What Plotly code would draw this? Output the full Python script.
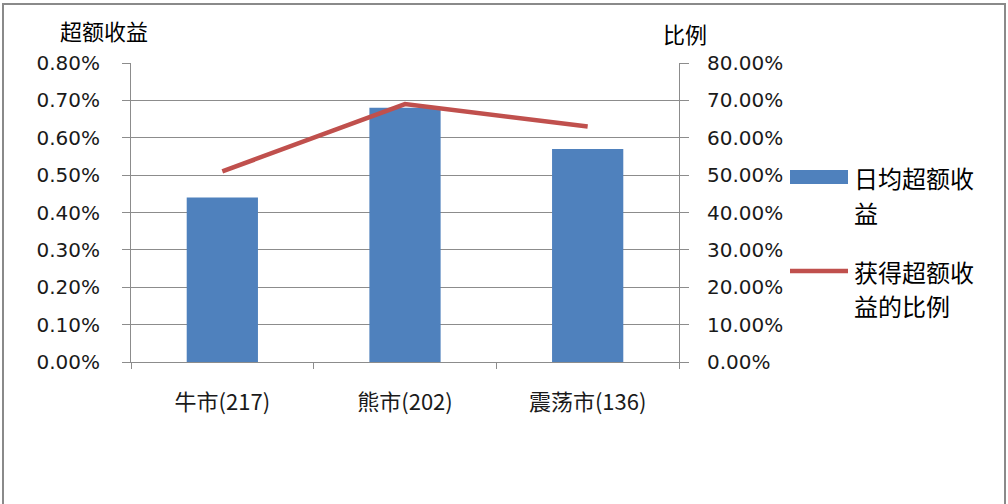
import plotly.graph_objects as go

categories = ["牛市(217)", "熊市(202)", "震荡市(136)"]
excess_return = [0.0044, 0.0068, 0.0057]      # 日均超额收益
win_ratio = [0.51, 0.69, 0.63]                # 获得超额收益的比例
left_ticks = [0, 0.001, 0.002, 0.003, 0.004, 0.005, 0.006, 0.007, 0.008]
right_ticks = [0, 0.1, 0.2, 0.3, 0.4, 0.5, 0.6, 0.7, 0.8]

W, H = 1008, 504
L, R, T, B = 131, 329, 63, 142
pw, ph = W - L - R, H - T - B

def px(x):
    return (x - L) / pw

def py(y):
    return (H - B - y) / ph

BLUE = "#4F81BD"
RED = "#C0504D"
GRID = "#8C8C8C"
NUM_FONT = dict(family="DejaVu Sans", size=20, color="#1a1a1a")
CJK = "Noto Sans CJK SC"

fig = go.Figure()
fig.add_trace(go.Bar(x=categories, y=excess_return, name="日均超额收益",
                     marker=dict(color=BLUE, line=dict(width=0)),
                     yaxis="y", showlegend=False))
fig.add_trace(go.Scatter(x=categories, y=win_ratio, name="获得超额收益的比例",
                         mode="lines", line=dict(color=RED, width=4.5),
                         yaxis="y2", showlegend=False))

fig.update_layout(
    width=W, height=H,
    margin=dict(l=L, r=R, t=T, b=B),
    paper_bgcolor="white", plot_bgcolor="white",
    bargap=0.61,
    xaxis=dict(type="category", showline=True, linecolor=GRID, linewidth=1,
               ticks="outside", ticklen=6, tickcolor=GRID, tickson="boundaries",
               tickfont=dict(family=CJK, size=22, color="#1a1a1a"),
               ticklabelstandoff=21, showgrid=False, zeroline=False),
    yaxis=dict(range=[0, 0.008], tickvals=left_ticks, tickformat=".2%",
               showline=True, linecolor=GRID, linewidth=1,
               ticks="outside", ticklen=8, tickcolor=GRID,
               showgrid=True, gridcolor=GRID, gridwidth=1, zeroline=False,
               tickfont=NUM_FONT, ticklabelstandoff=18),
    yaxis2=dict(range=[0, 0.8], tickvals=right_ticks, tickformat=".2%",
                overlaying="y", side="right",
                showline=True, linecolor=GRID, linewidth=1,
                ticks="outside", ticklen=9, tickcolor=GRID,
                showgrid=False, zeroline=False,
                tickfont=NUM_FONT, ticklabelstandoff=14),
    showlegend=False,
)

shapes = [
    # outer frame
    dict(type="rect", xref="paper", yref="paper",
         x0=px(3), x1=px(1005), y0=py(520), y1=py(4),
         line=dict(color="#8a8a8a", width=2), fillcolor="rgba(0,0,0,0)", layer="below"),
    # legend swatches
    dict(type="rect", xref="paper", yref="paper",
         x0=px(790), x1=px(848), y0=py(184), y1=py(170),
         line=dict(width=0), fillcolor=BLUE),
    dict(type="line", xref="paper", yref="paper",
         x0=px(790), x1=px(848), y0=py(271), y1=py(271),
         line=dict(color=RED, width=4.5)),
]

def label(text, x, y, size, anchor="center"):
    return dict(text=text, xref="paper", yref="paper", x=px(x), y=py(y),
                xanchor=anchor, yanchor="middle", showarrow=False,
                font=dict(family=CJK, size=size, color="#000000"))

annotations = [
    label("超额收益", 104, 30, 22),
    label("比例", 685, 33, 22),
    label("日均超额收", 852, 177, 24, "left"),
    label("益", 852, 212, 24, "left"),
    label("获得超额收", 852, 271, 24, "left"),
    label("益的比例", 852, 305, 24, "left"),
]

fig.update_layout(shapes=shapes, annotations=annotations)
fig.write_html("out.html", config={"displayModeBar": False},
               post_script="document.body.style.margin='0';")
